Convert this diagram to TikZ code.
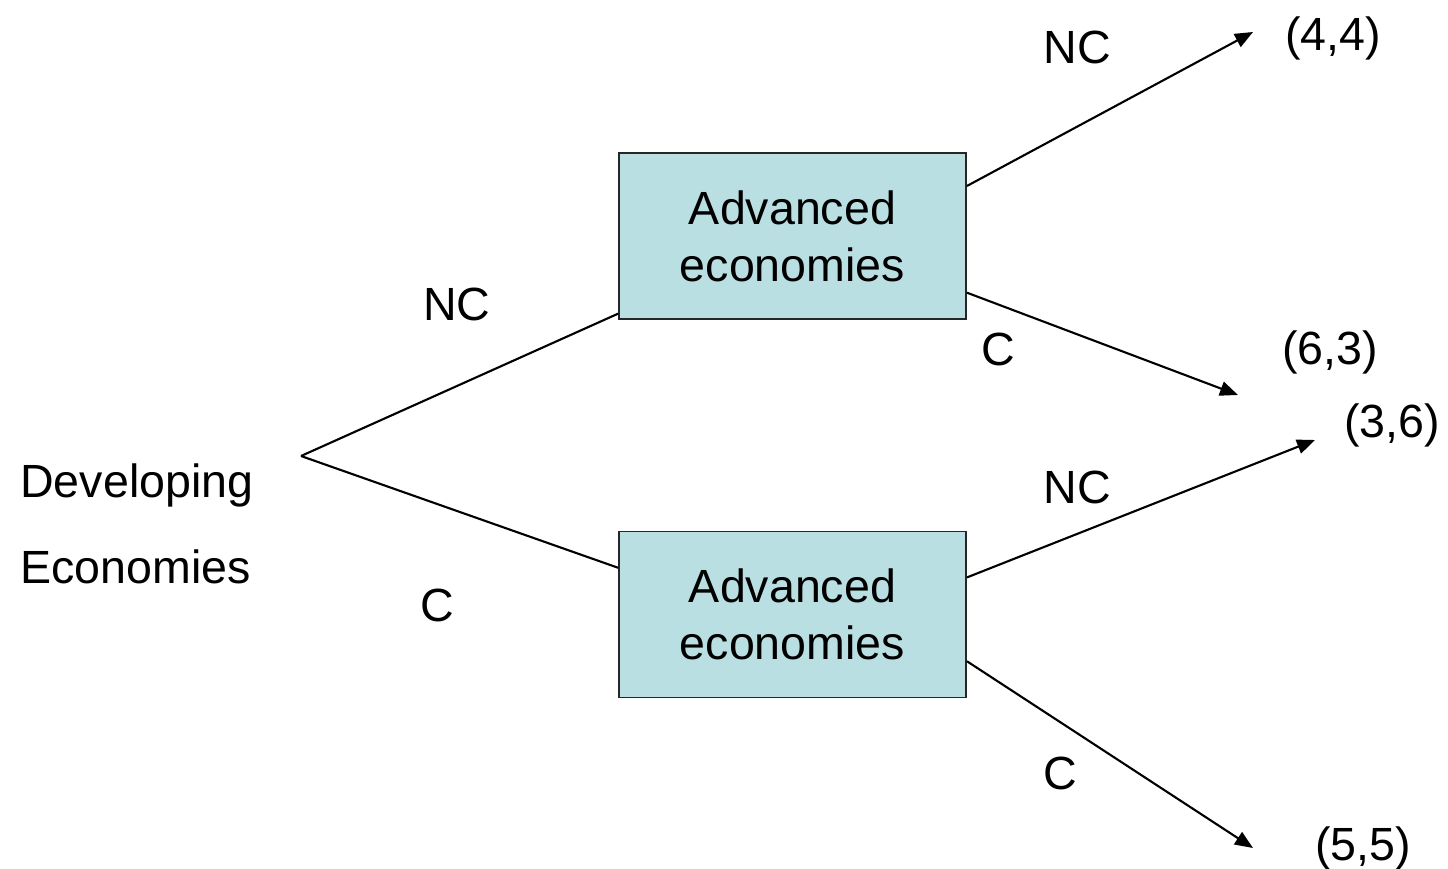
\documentclass[tikz,border=0pt]{standalone}
\usepackage{fontspec}
\setmainfont{Liberation Sans}
\usetikzlibrary{arrows.meta}
\definecolor{boxfill}{RGB}{186,223,226}
\tikzset{
  econbox/.style={draw=black!85, line width=1.1pt, fill=boxfill,
    minimum width=6.94cm, minimum height=3.32cm, align=center,
    inner sep=0pt, font=\fontsize{26.5}{32.3}\selectfont},
  lbl/.style={inner sep=0pt, font=\fontsize{26.5}{32}\selectfont},
  branch/.style={line width=1.2pt},
  move/.style={branch, -{Triangle[length=0.36cm, width=0.29cm]}}
}

\begin{document}
\begin{tikzpicture}[x=0.02cm, y=-0.02cm]
\useasboundingbox (0,0) rectangle (1448,869);
% first mover
\node [lbl, anchor=west, align=left, font=\fontsize{26.5}{49}\selectfont]
  (dev) at (20,524) {Developing\\Economies};
\coordinate (root) at (301,456);
% second movers
\node [econbox] (adv1) at (792.5,236) {Advanced\\economies};
\node [econbox] (adv2) at (792.5,614.5) {Advanced\\economies};
% end points
\coordinate (t44) at (1253,32);
\coordinate (t63) at (1238,395);
\coordinate (t36) at (1315,440);
\coordinate (t55) at (1253,848);
% branches
\draw [branch] (root) -- (adv1.204);
\draw [branch] (root) -- (adv2.165);
\draw [move] (adv1.16) -- (t44);
\draw [move] (adv1.-18) -- (t63);
\draw [move] (adv2.12.5) -- (t36);
\draw [move] (adv2.-15) -- (t55);
% choices
\node [lbl] (nc0) at (457,304) {NC};
\node [lbl] (c0) at (437,605) {C};
\node [lbl] (nc1) at (1077,47) {NC};
\node [lbl] (c1) at (998,349) {C};
\node [lbl] (nc2) at (1077,487) {NC};
\node [lbl] (c2) at (1060,773) {C};
% payoffs
\node [lbl] (p44) at (1333,38) {(4,4)};
\node [lbl] (p63) at (1330,352) {(6,3)};
\node [lbl] (p36) at (1392,425) {(3,6)};
\node [lbl] (p55) at (1363,848) {(5,5)};
\end{tikzpicture}
\end{document}
